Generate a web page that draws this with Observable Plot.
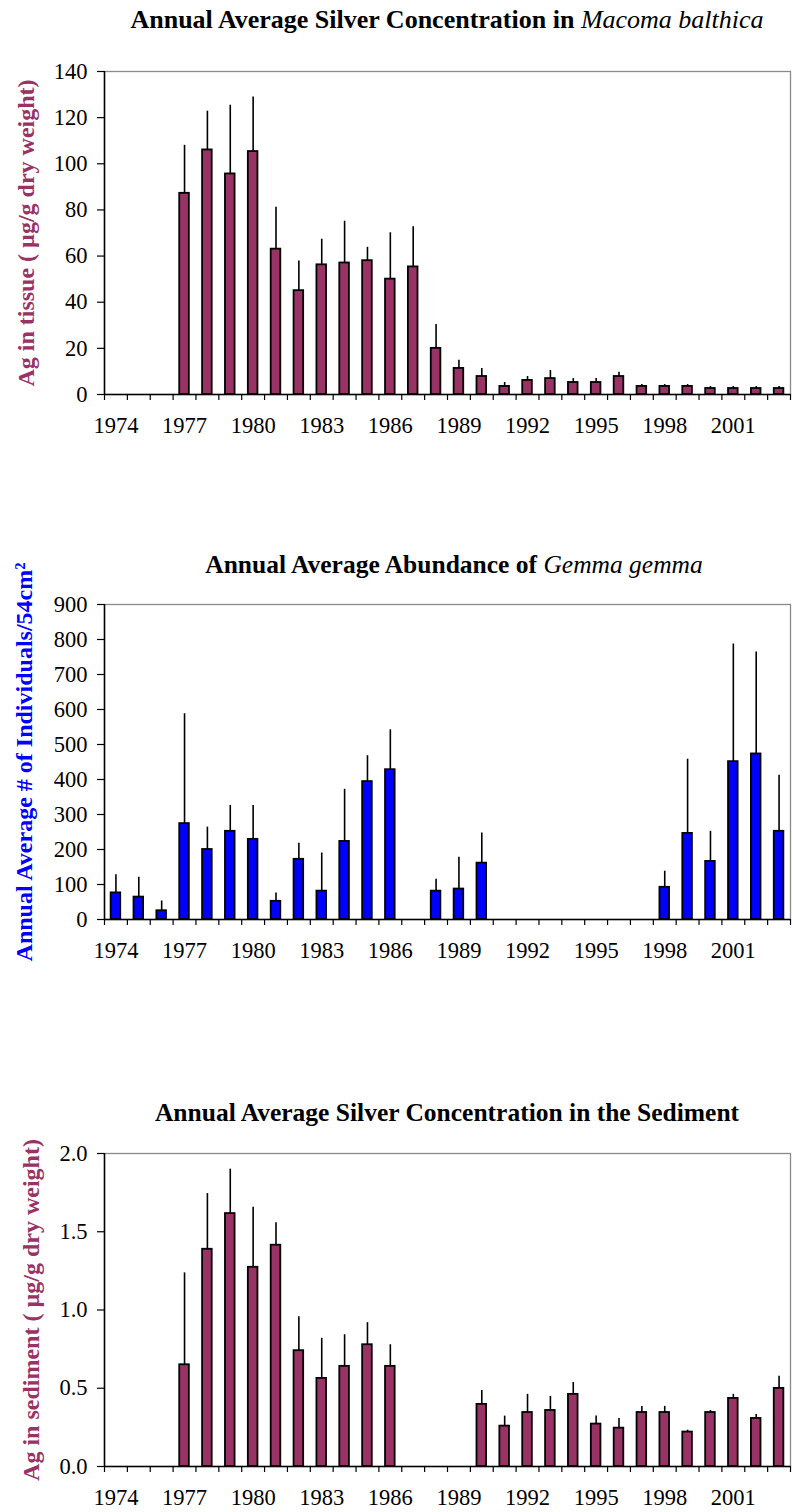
<!DOCTYPE html>
<html>
<head>
<meta charset="utf-8">
<script src="https://cdn.jsdelivr.net/npm/d3@7"></script>
<script src="https://cdn.jsdelivr.net/npm/@observablehq/plot@0.6"></script>
<style>
  body { margin: 0; background: #fff; }
  #root { position: relative; width: 793px; height: 1512px; font-family: "Liberation Serif", "Times New Roman", serif; color: #000; }
  .title { position: absolute; left: 104px; width: 686px; text-align: center; font-size: 25.5px; font-weight: bold; line-height: 25px; white-space: nowrap; }
  .title i { font-weight: normal; }
  .panel { position: absolute; left: 0; }
</style>
</head>
<body>
<div id="root"></div>
<script>
const years = [1974,1975,1976,1977,1978,1979,1980,1981,1982,1983,1984,1985,1986,1987,1988,1989,1990,1991,1992,1993,1994,1995,1996,1997,1998,1999,2000,2001,2002,2003];
const labelYears = [1974,1977,1980,1983,1986,1989,1992,1995,1998,2001];

// Panel 1: Ag in Macoma balthica tissue (µg/g dry weight)
const tissueMean  = [null,null,null,87.2,106,95.6,105.3,63,45,56.2,57,58,50,55.3,20,11.3,7.8,3.5,6.1,6.9,5.2,5.2,7.8,3.5,3.5,3.5,2.6,2.6,2.6,2.6];
const tissueUpper = [null,null,null,108,122.8,125.4,128.9,81.2,57.9,67.3,75.1,63.8,70.1,72.7,30.3,14.8,11.3,5.2,7.8,10.4,6.9,6.9,9.6,4.3,4.3,4.3,3.5,3.5,3.5,3.5];
const tissueTicks = [0,20,40,60,80,100,120,140];

// Panel 2: Gemma gemma abundance (# / 54 cm²)
const gemmaMean  = [76,64,25,274,200,252,229,52,172,81,223,394,428,null,81,87,161,null,null,null,null,null,null,null,92,246,166,451,473,252];
const gemmaUpper = [128,121,53,588,264,326,326,76,218,190,372,468,542,null,115,178,247,null,null,null,null,null,null,null,138,458,252,787,764,412];
const gemmaTicks = [0,100,200,300,400,500,600,700,800,900];

// Panel 3: Ag in sediment (µg/g dry weight)
const sedMean  = [null,null,null,0.650,1.388,1.616,1.273,1.414,0.740,0.563,0.640,0.778,0.640,null,null,null,0.397,0.258,0.345,0.358,0.461,0.271,0.245,0.345,0.345,0.220,0.345,0.435,0.307,0.499];
const sedUpper = [null,null,null,1.237,1.744,1.900,1.657,1.557,0.957,0.819,0.842,0.919,0.778,null,null,null,0.486,0.322,0.461,0.448,0.537,0.322,0.307,0.384,0.384,0.232,0.358,0.461,0.333,0.576];
const sedTicks = [0,0.5,1.0,1.5,2.0];

const maroon = "#993366";
const blue = "#0000FF";
const barHalf = 0.21;           // half bar width, in category units (style)
const fontStack = '"Liberation Serif", "Times New Roman", serif';

const root = document.getElementById("root");

function addTitle(html, top, size, shift) {
  const d = document.createElement("div");
  d.className = "title";
  d.style.top = top + "px";
  d.style.fontSize = size + "px";
  d.style.left = (104 + shift) + "px";
  d.innerHTML = html;
  root.appendChild(d);
}

function drawPanel(o) {
  const W = 793, mL = 104, mR = 3, mT = 10, mB = 50;
  const data = years.map((year, i) => ({year, mean: o.mean[i], upper: o.upper[i]})).filter(d => d.mean != null);
  const first = years[0], last = years[years.length - 1];
  const boundaries = years.map(y => y - 0.5).concat([last + 0.5]);
  const svg = Plot.plot({
    width: W,
    height: o.plotH + mT + mB,
    marginLeft: mL, marginRight: mR, marginTop: mT, marginBottom: mB,
    style: {fontFamily: fontStack, fontSize: "22.5px", color: "black", background: "transparent", overflow: "visible"},
    x: {type: "linear", domain: [first - 0.5, last + 0.5]},
    y: {domain: [0, o.yMax]},
    marks: [
      Plot.frame({stroke: "#8a8a8a", strokeWidth: 1.3}),
      Plot.ruleX(data, {x: "year", y1: "mean", y2: "upper", stroke: "black", strokeWidth: 1.6}),
      Plot.rectY(data, {x1: d => d.year - barHalf, x2: d => d.year + barHalf, y: "mean", fill: o.fill, stroke: "black", strokeWidth: 1.8}),
      Plot.ruleY([0], {stroke: "black", strokeWidth: 1.5}),
      Plot.ruleX([first - 0.5], {stroke: "black", strokeWidth: 1.5}),
      Plot.axisY({ticks: o.ticks, tickSize: 7, tickPadding: 10, tickFormat: o.format, label: null, strokeWidth: 1.2}),
      Plot.axisX({ticks: labelYears, tickSize: 0, tickPadding: 23, tickFormat: d => String(d), label: null}),
      Plot.axisX({ticks: boundaries, tickSize: 6, tickFormat: () => "", label: null, strokeWidth: 1.2}),
      Plot.text([o.label], {text: d => d, frameAnchor: "left", textAnchor: "middle", rotate: -90, dx: o.labelDx,
        fill: o.labelColor, fontWeight: "bold", fontSize: 24, fontFamily: fontStack})
    ]
  });
  svg.classList.add("panel");
  svg.style.top = (o.plotTop - mT) + "px";
  root.appendChild(svg);
}

addTitle("Annual Average Silver Concentration in <i>Macoma balthica</i>", 7, 26, 0);
drawPanel({mean: tissueMean, upper: tissueUpper, yMax: 140, ticks: tissueTicks, format: d => String(d),
  fill: maroon, label: "Ag in tissue ( µg/g dry weight)", labelColor: maroon, labelDx: -78, plotTop: 71, plotH: 323});

addTitle("Annual Average Abundance of <i>Gemma gemma</i>", 552, 25.5, 7);
drawPanel({mean: gemmaMean, upper: gemmaUpper, yMax: 900, ticks: gemmaTicks, format: d => String(d),
  fill: blue, label: "Annual Average # of Individuals/54cm²", labelColor: blue, labelDx: -80, plotTop: 604, plotH: 315});

addTitle("Annual Average Silver Concentration in the Sediment", 1100, 25.5, 0);
drawPanel({mean: sedMean, upper: sedUpper, yMax: 2, ticks: sedTicks, format: d3.format(".1f"),
  fill: maroon, label: "Ag in sediment ( µg/g dry weight)", labelColor: maroon, labelDx: -73, plotTop: 1153, plotH: 313});
</script>
</body>
</html>
